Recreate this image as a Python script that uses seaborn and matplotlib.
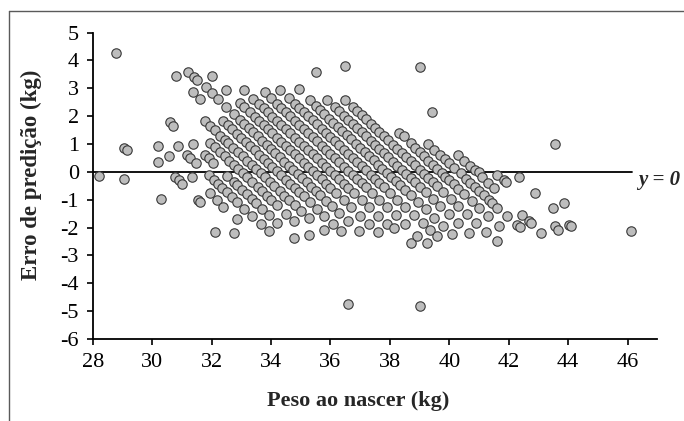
import matplotlib
matplotlib.use("Agg")
import matplotlib.pyplot as plt
from matplotlib.lines import Line2D
import pandas as pd
import seaborn as sns

# Peso ao nascer (kg) e erro de predição (kg), agrupados por faixa diagonal
peso_isolados = [28.2, 29.05, 29.05, 29.15, 30.3, 28.8, 35.52, 36.5, 36.58, 39.0, 43.56, 46.1]
erro_isolados = [-0.15, -0.25, 0.86, 0.8, -0.98, 4.27, 3.57, 3.8, -4.75, -4.8, 0.99, -2.14]

peso_f01 = [30.2, 30.77, 30.89, 31.0, 31.56, 31.62, 32.12, 32.74]
erro_f01 = [0.35, -0.2, -0.31, -0.43, -1.0, -1.08, -2.17, -2.18]

peso_f02 = [30.2, 30.58, 31.34, 31.95, 32.18, 32.4, 32.85]
erro_f02 = [0.93, 0.57, -0.17, -0.77, -1.0, -1.25, -1.7]

peso_f03 = [30.86, 31.17, 31.28, 31.47, 31.9, 32.07, 32.2, 32.35, 32.52, 32.68, 32.85, 33.1,
            33.35, 33.65, 33.92]
erro_f03 = [0.91, 0.61, 0.5, 0.32, -0.13, -0.29, -0.42, -0.57, -0.74, -0.9, -1.07, -1.33,
            -1.57, -1.87, -2.14]

peso_f04 = [30.6, 30.7, 31.39, 31.78, 31.9, 32.04, 32.52, 32.74, 32.85, 33.02, 33.19, 33.35,
            33.5, 33.7, 33.92, 34.2, 34.76]
erro_f04 = [1.8, 1.66, 1.0, 0.61, 0.48, 0.33, -0.15, -0.36, -0.48, -0.65, -0.8, -0.97,
            -1.12, -1.32, -1.55, -1.82, -2.38]

peso_f05 = [31.95, 32.1, 32.3, 32.45, 32.6, 32.75, 32.9, 33.05, 33.2, 33.35, 33.55, 33.7,
            33.85, 34.0, 34.2, 34.5, 34.76, 35.27]
erro_f05 = [1.05, 0.9, 0.7, 0.55, 0.4, 0.25, 0.1, -0.05, -0.2, -0.35, -0.55, -0.7,
            -0.85, -1.0, -1.2, -1.5, -1.76, -2.26]

peso_f06 = [31.78, 31.95, 32.1, 32.3, 32.46, 32.56, 32.73, 32.9, 33.05, 33.2, 33.35, 33.5,
            33.65, 33.8, 33.95, 34.1, 34.3, 34.45, 34.6, 34.8, 35.0, 35.27, 35.77]
erro_f06 = [1.83, 1.65, 1.5, 1.3, 1.14, 1.04, 0.87, 0.7, 0.55, 0.4, 0.25, 0.1,
            -0.05, -0.2, -0.35, -0.5, -0.7, -0.85, -1.0, -1.2, -1.4, -1.67, -2.1]

peso_f07 = [30.8, 31.36, 31.6, 32.4, 32.55, 32.7, 32.85, 33.0, 33.15, 33.3, 33.45, 33.6,
            33.75, 33.9, 34.05, 34.2, 34.35, 34.5, 34.65, 34.8, 34.95, 35.1, 35.3, 35.55,
            35.8, 36.1, 36.35]
erro_f07 = [3.43, 2.88, 2.63, 1.82, 1.67, 1.52, 1.37, 1.22, 1.07, 0.92, 0.77, 0.62,
            0.47, 0.32, 0.17, 0.02, -0.13, -0.28, -0.43, -0.58, -0.73, -0.88, -1.08, -1.33,
            -1.58, -1.88, -2.13]

peso_f08 = [31.2, 31.4, 31.5, 31.82, 32.0, 32.2, 32.5, 32.75, 32.95, 33.1, 33.25, 33.4,
            33.55, 33.7, 33.85, 34.0, 34.15, 34.3, 34.45, 34.6, 34.75, 34.9, 35.05, 35.2,
            35.35, 35.5, 35.65, 35.85, 36.05, 36.3, 36.6, 36.95]
erro_f08 = [3.58, 3.42, 3.3, 3.03, 2.82, 2.62, 2.32, 2.07, 1.87, 1.72, 1.57, 1.42,
            1.27, 1.12, 0.97, 0.82, 0.67, 0.52, 0.37, 0.22, 0.07, -0.08, -0.23, -0.38,
            -0.53, -0.68, -0.83, -1.03, -1.23, -1.48, -1.78, -2.13]

peso_f09 = [32.0, 32.5, 32.97, 33.1, 33.3, 33.45, 33.6, 33.75, 33.9, 34.05, 34.2, 34.35,
            34.5, 34.65, 34.8, 34.95, 35.1, 35.25, 35.4, 35.55, 35.7, 35.85, 36.0, 36.2,
            36.45, 36.7, 37.0, 37.3, 37.6]
erro_f09 = [3.43, 2.93, 2.46, 2.33, 2.13, 1.98, 1.83, 1.68, 1.53, 1.38, 1.23, 1.08,
            0.93, 0.78, 0.63, 0.48, 0.33, 0.18, 0.03, -0.12, -0.27, -0.42, -0.57, -0.77,
            -1.02, -1.27, -1.57, -1.87, -2.17]

peso_f10 = [33.1, 33.4, 33.6, 33.75, 33.9, 34.05, 34.2, 34.35, 34.5, 34.65, 34.8, 34.95,
            35.1, 35.25, 35.4, 35.55, 35.7, 35.85, 36.0, 36.15, 36.3, 36.45, 36.6, 36.8,
            37.05, 37.3, 37.6, 37.9, 38.13, 38.7]
erro_f10 = [2.93, 2.63, 2.43, 2.28, 2.13, 1.98, 1.83, 1.68, 1.53, 1.38, 1.23, 1.08,
            0.93, 0.78, 0.63, 0.48, 0.33, 0.18, 0.03, -0.12, -0.27, -0.42, -0.57, -0.77,
            -1.02, -1.27, -1.57, -1.87, -2.02, -2.56]

peso_f11 = [33.81, 34.0, 34.2, 34.35, 34.5, 34.65, 34.8, 34.95, 35.1, 35.25, 35.4, 35.55,
            35.7, 35.85, 36.0, 36.15, 36.3, 36.45, 36.6, 36.75, 36.9, 37.05, 37.2, 37.4,
            37.65, 37.9, 38.2, 38.5, 38.92, 39.26]
erro_f11 = [2.88, 2.64, 2.44, 2.29, 2.14, 1.99, 1.84, 1.69, 1.54, 1.39, 1.24, 1.09,
            0.94, 0.79, 0.64, 0.49, 0.34, 0.19, 0.04, -0.11, -0.26, -0.41, -0.56, -0.76,
            -1.01, -1.26, -1.56, -1.86, -2.32, -2.56]

peso_f12 = [34.3, 34.6, 34.8, 34.95, 35.1, 35.25, 35.4, 35.55, 35.7, 35.85, 36.0, 36.15,
            36.3, 36.45, 36.6, 36.75, 36.9, 37.05, 37.2, 37.35, 37.5, 37.65, 37.8, 38.0,
            38.25, 38.5, 38.8, 39.1, 39.35, 39.6]
erro_f12 = [2.95, 2.65, 2.45, 2.3, 2.15, 2.0, 1.85, 1.7, 1.55, 1.4, 1.25, 1.1,
            0.95, 0.8, 0.65, 0.5, 0.35, 0.2, 0.05, -0.1, -0.25, -0.4, -0.55, -0.75,
            -1.0, -1.25, -1.55, -1.85, -2.1, -2.32]

peso_f13 = [34.93, 35.3, 35.5, 35.65, 35.8, 35.95, 36.1, 36.25, 36.4, 36.55, 36.7, 36.85,
            37.0, 37.15, 37.3, 37.45, 37.6, 37.75, 37.9, 38.05, 38.2, 38.35, 38.5, 38.7,
            38.95, 39.2, 39.5, 39.8, 40.1]
erro_f13 = [2.98, 2.56, 2.36, 2.21, 2.06, 1.91, 1.76, 1.61, 1.46, 1.31, 1.16, 1.01,
            0.86, 0.71, 0.56, 0.41, 0.26, 0.11, -0.04, -0.19, -0.34, -0.49, -0.64, -0.84,
            -1.09, -1.34, -1.64, -1.94, -2.24]

peso_f14 = [35.9, 36.15, 36.3, 36.45, 36.6, 36.75, 36.9, 37.05, 37.2, 37.35, 37.5, 37.65,
            37.8, 37.95, 38.1, 38.25, 38.4, 38.55, 38.7, 38.85, 39.0, 39.2, 39.45, 39.7,
            40.0, 40.3, 40.65]
erro_f14 = [2.57, 2.32, 2.17, 2.02, 1.87, 1.72, 1.57, 1.42, 1.27, 1.12, 0.97, 0.82,
            0.67, 0.52, 0.37, 0.22, 0.07, -0.08, -0.23, -0.38, -0.53, -0.73, -0.98, -1.23,
            -1.53, -1.83, -2.18]

peso_f15 = [36.5, 36.75, 36.9, 37.05, 37.2, 37.35, 37.5, 37.65, 37.8, 37.95, 38.1, 38.25,
            38.4, 38.55, 38.7, 38.86, 39.0, 39.15, 39.3, 39.45, 39.6, 39.8, 40.05, 40.3,
            40.6, 40.9, 41.25, 41.62]
erro_f15 = [2.58, 2.33, 2.18, 2.03, 1.88, 1.73, 1.58, 1.43, 1.28, 1.13, 0.98, 0.83,
            0.68, 0.53, 0.38, 0.23, 0.08, -0.07, -0.22, -0.37, -0.52, -0.72, -0.97, -1.22,
            -1.52, -1.82, -2.17, -2.5]

peso_f16 = [38.3, 38.47, 38.7, 38.85, 39.0, 39.15, 39.3, 39.45, 39.6, 39.75, 39.87, 40.0,
            40.15, 40.3, 40.5, 40.75, 41.0, 41.3, 41.67]
erro_f16 = [1.4, 1.27, 1.03, 0.85, 0.7, 0.55, 0.4, 0.25, 0.1, -0.05, -0.17, -0.3,
            -0.45, -0.6, -0.8, -1.05, -1.3, -1.6, -1.94]

peso_f17 = [39.3, 39.5, 39.7, 39.85, 40.0, 40.15, 40.38, 40.55, 40.7, 40.85, 41.0, 41.17,
            41.33, 41.45, 41.62, 41.95, 42.29, 42.37]
erro_f17 = [1.0, 0.8, 0.6, 0.45, 0.3, 0.15, -0.05, -0.25, -0.4, -0.55, -0.7, -0.83,
            -1.0, -1.12, -1.31, -1.6, -1.9, -1.99]

peso_f18 = [40.3, 40.5, 40.7, 40.85, 41.0, 41.1, 41.3, 41.5, 42.46, 42.68, 42.74, 43.1]
erro_f18 = [0.6, 0.4, 0.2, 0.05, 0.01, -0.17, -0.4, -0.59, -1.54, -1.78, -1.82, -2.18]

peso_f19 = [39.43, 41.62, 41.84, 41.9, 43.55, 43.66]
erro_f19 = [2.13, -0.11, -0.29, -0.35, -1.96, -2.08]

peso_f20 = [42.35, 42.9, 43.5, 44.03, 44.1]
erro_f20 = [-0.19, -0.77, -1.3, -1.9, -1.94]

peso_f21 = [39.0, 43.86]
erro_f21 = [3.75, -1.12]

x_ticks = [28, 30, 32, 34, 36, 38, 40, 42, 44, 46]
y_ticks = [-6, -5, -4, -3, -2, -1, 0, 1, 2, 3, 4, 5]
x_label = "Peso ao nascer (kg)"
y_label = "Erro de predição (kg)"
ref_label = "y = 0"

pesos = [peso_isolados, peso_f01, peso_f02, peso_f03, peso_f04, peso_f05, peso_f06,
         peso_f07, peso_f08, peso_f09, peso_f10, peso_f11, peso_f12, peso_f13, peso_f14,
         peso_f15, peso_f16, peso_f17, peso_f18, peso_f19, peso_f20, peso_f21]
erros = [erro_isolados, erro_f01, erro_f02, erro_f03, erro_f04, erro_f05, erro_f06,
         erro_f07, erro_f08, erro_f09, erro_f10, erro_f11, erro_f12, erro_f13, erro_f14,
         erro_f15, erro_f16, erro_f17, erro_f18, erro_f19, erro_f20, erro_f21]

df = pd.concat(
    [pd.DataFrame({"peso": p, "erro": e}) for p, e in zip(pesos, erros)],
    ignore_index=True,
)

sns.set_theme(style="white")
plt.rcParams["font.family"] = ["Liberation Serif", "DejaVu Serif"]
plt.rcParams["axes.unicode_minus"] = False

W, H = 684, 421
fig = plt.figure(figsize=(W / 100, H / 100), dpi=100)
fig.patch.set_facecolor("white")
ax = fig.add_axes([92.7 / W, (H - 339) / H, (657.3 - 92.7) / W, (339 - 32.5) / H])

sns.scatterplot(
    data=df, x="peso", y="erro", ax=ax,
    s=46, color="#bdbdbd", edgecolor="#383838", linewidth=0.8, zorder=3, legend=False,
)

ax.plot([28, 46.15], [0, 0], color="black", lw=1.3, zorder=2)
ax.text(46.35, -0.3, ref_label, fontsize=15, style="italic", fontweight="bold",
        va="center", ha="left", clip_on=False)

ax.set_xlim(28, 47)
ax.set_ylim(-6, 5)
ax.set_xticks(x_ticks)
ax.set_yticks(y_ticks)
ax.set_xticklabels([str(t) for t in x_ticks])
ax.set_yticklabels([str(t) for t in y_ticks])
ax.tick_params(axis="both", direction="out", length=4, width=1.2, colors="black",
               labelsize=16, pad=6)
ax.tick_params(axis="both", bottom=True, left=True)

for side in ("top", "right"):
    ax.spines[side].set_visible(False)
for side in ("left", "bottom"):
    ax.spines[side].set_color("black")
    ax.spines[side].set_linewidth(1.3)

ax.set_xlabel(x_label, fontsize=16, fontweight="bold")
ax.set_ylabel(y_label, fontsize=16.5, fontweight="bold")
ax.xaxis.set_label_coords(0.47, -0.17)
ax.yaxis.set_label_coords(-0.09, 0.535)

# moldura externa (linhas superior e esquerda)
fig.add_artist(Line2D([9 / W, 9 / W], [0, 1 - 11 / H], transform=fig.transFigure,
                      color="#5a5a5a", lw=1.0))
fig.add_artist(Line2D([9 / W, 1], [1 - 11 / H, 1 - 11 / H], transform=fig.transFigure,
                      color="#5a5a5a", lw=1.0))

fig.savefig("out.png", dpi=100, facecolor="white")
